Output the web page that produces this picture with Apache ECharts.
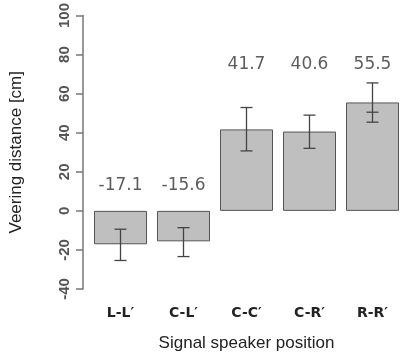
<!DOCTYPE html>
<html><head><meta charset="utf-8">
<script src="https://cdn.jsdelivr.net/npm/echarts@6/dist/echarts.min.js"></script>
<style>html,body{margin:0;padding:0;background:#fff}#c{width:406px;height:357px}</style>
</head><body><div id="c"></div>
<script>
const categories = ["L-L\u2032", "C-L\u2032", "C-C\u2032", "C-R\u2032", "R-R\u2032"];
const means = [-17.1, -15.6, 41.7, 40.6, 55.5];
const errLow = [-25.4, -23.4, 30.7, 32.0, 45.4];
const errHigh = [-9.4, -8.6, 52.9, 49.0, 65.5];
const extraTick = [null, null, null, null, 50.5];
const labelY = [13, 13, 75, 75, 75];
const yTicks = [-40, -20, 0, 20, 40, 60, 80, 100];

const chart = echarts.init(document.getElementById('c'), null, {renderer: 'canvas'});
chart.setOption({
  animation: false,
  backgroundColor: '#fff',
  grid: {left: 88, right: 2, top: 14, bottom: 65},
  xAxis: {
    type: 'category', data: categories,
    axisLine: {show: false}, axisTick: {show: false},
    axisLabel: {margin: 17, fontSize: 14, fontWeight: 'bold', color: '#222', fontFamily: 'DejaVu Sans'},
    name: 'Signal speaker position', nameLocation: 'middle', nameGap: 46,
    nameTextStyle: {fontSize: 17, color: '#222', fontFamily: 'Liberation Sans'}
  },
  yAxis: {
    type: 'value', min: yTicks[0], max: yTicks[yTicks.length - 1], interval: 20, offset: 6,
    splitLine: {show: false},
    axisLine: {show: true, lineStyle: {color: '#777', width: 1.5}},
    axisTick: {show: true, length: 7, lineStyle: {color: '#777', width: 1.5}},
    axisLabel: {rotate: 90, margin: 11, fontSize: 15, fontWeight: 'bold', color: '#555', fontFamily: 'Liberation Sans'},
    name: 'Veering distance [cm]', nameLocation: 'middle', nameGap: 58,
    nameTextStyle: {fontSize: 17, color: '#222', fontFamily: 'Liberation Sans'}
  },
  series: [
    {
      type: 'bar', data: means, barWidth: 53,
      itemStyle: {color: '#bfbfbf', borderColor: '#555', borderWidth: 1}
    },
    {
      type: 'custom',
      data: categories.map((c, i) => [i, errLow[i], errHigh[i], extraTick[i] == null ? NaN : extraTick[i]]),
      renderItem: function (params, api) {
        const i = api.value(0);
        const lo = api.coord([i, api.value(1)]);
        const hi = api.coord([i, api.value(2)]);
        const hw = 6;
        const st = {stroke: '#444', lineWidth: 1.3};
        const ch = [
          {type: 'line', shape: {x1: lo[0], y1: lo[1], x2: hi[0], y2: hi[1]}, style: st},
          {type: 'line', shape: {x1: lo[0] - hw, y1: lo[1], x2: lo[0] + hw, y2: lo[1]}, style: st},
          {type: 'line', shape: {x1: hi[0] - hw, y1: hi[1], x2: hi[0] + hw, y2: hi[1]}, style: st}
        ];
        const ex = api.value(3);
        if (!isNaN(ex)) {
          const e = api.coord([i, ex]);
          ch.push({type: 'line', shape: {x1: e[0] - hw, y1: e[1], x2: e[0] + hw, y2: e[1]}, style: st});
        }
        return {type: 'group', children: ch};
      },
      z: 5
    },
    {
      type: 'scatter', symbolSize: 0,
      data: categories.map((c, i) => [i, labelY[i], means[i]]),
      label: {
        show: true, position: 'inside',
        formatter: p => p.value[2].toFixed(1),
        fontSize: 17, color: '#333', fontFamily: 'DejaVu Sans'
      }
    }
  ]
});
</script></body></html>
